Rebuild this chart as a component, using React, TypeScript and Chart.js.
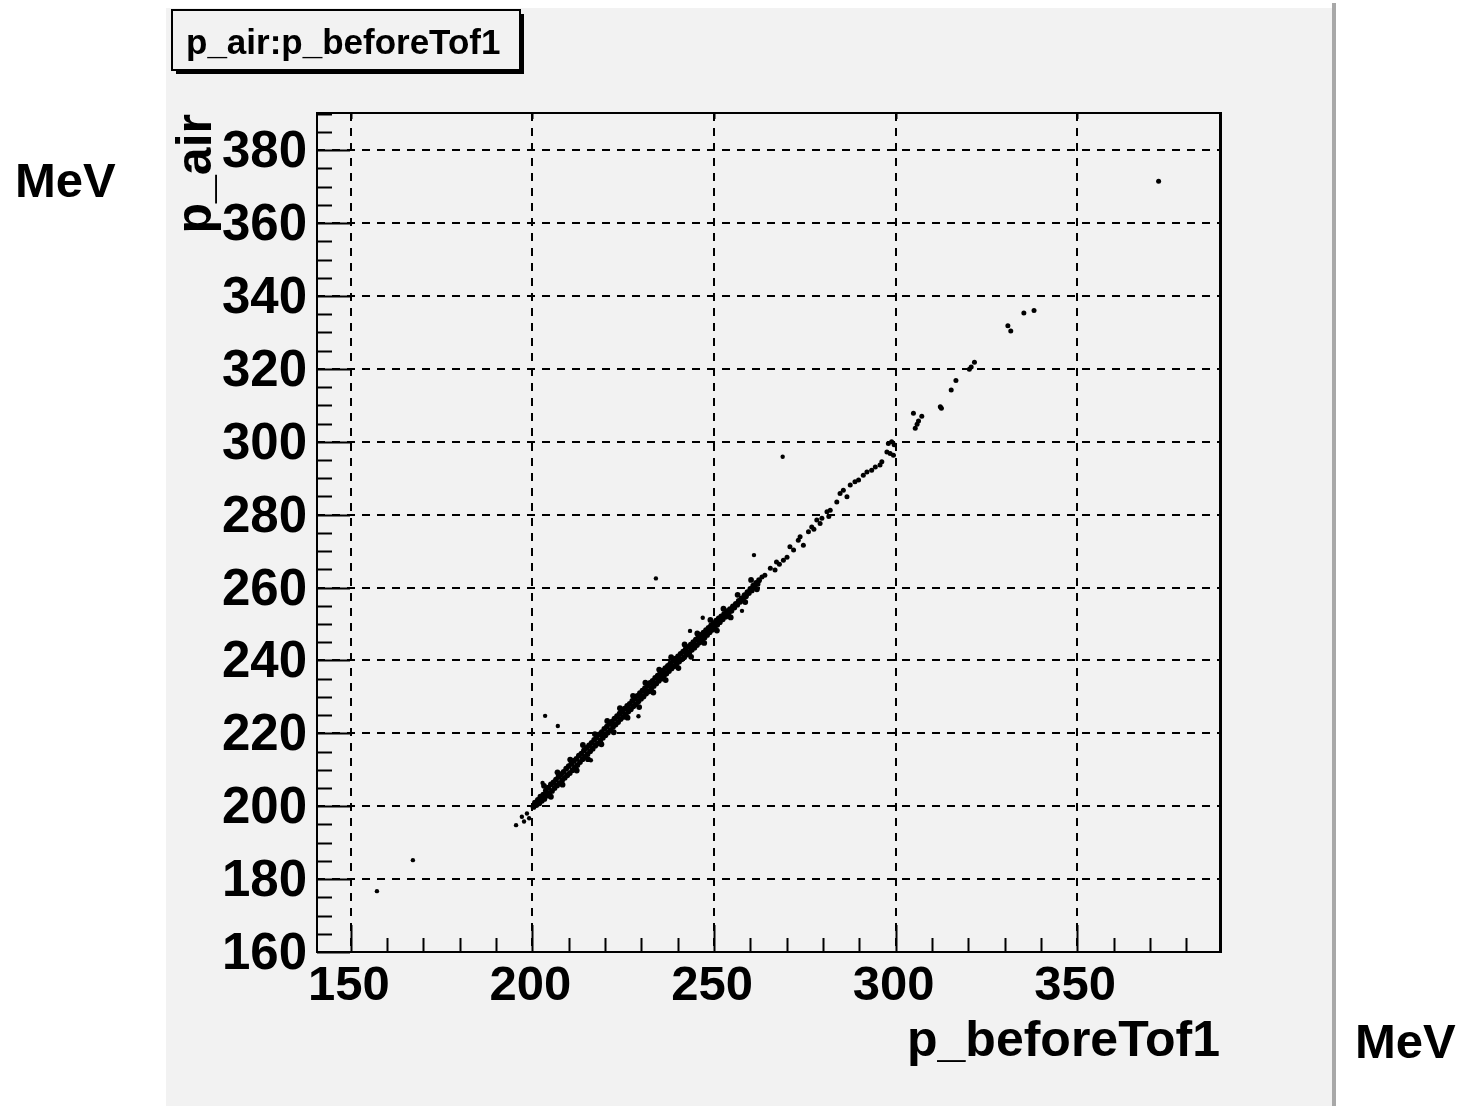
import React, { useEffect, useRef } from "react";
import { Chart, registerables } from "chart.js";

Chart.register(...registerables);

// ---- axis setup -----------------------------------------------------------
const X_MIN = 140.7;
const X_MAX = 389.3;
const Y_MIN = 160;
const Y_MAX = 390.2;
const xMajorTicks = [150, 200, 250, 300, 350];
const yMajorTicks = [160, 180, 200, 220, 240, 260, 280, 300, 320, 340, 360, 380];
const xMinorStep = 10;
const yMinorStep = 5;

const histTitle = "p_air:p_beforeTof1";
const xTitle = "p_beforeTof1";
const yTitle = "p_air";
const unitLabel = "MeV";

// ---- events: [p_beforeTof1, p_air] --------------------------------------
const coreBand: [number, number][] = [
  [200.3, 199.8], [200.7, 201.0], [201.1, 200.3], [201.5, 201.7], [201.9, 200.8], [202.2, 202.6], [202.6, 201.5], [203.0, 203.2],
  [203.3, 202.0], [203.7, 204.3], [204.0, 202.9], [204.4, 205.1], [204.7, 203.6], [205.1, 206.0], [205.4, 204.2], [205.8, 206.5],
  [206.1, 205.0], [206.5, 207.3], [206.8, 205.7], [207.2, 208.1], [207.5, 206.3], [207.9, 208.8], [208.2, 207.2], [208.6, 209.4],
  [208.9, 207.8], [209.3, 210.3], [209.6, 208.5], [210.0, 211.0], [210.3, 209.1], [210.7, 211.6], [211.0, 209.9], [211.4, 212.4],
  [211.7, 210.7], [212.1, 213.0],
  [212.4, 211.3], [212.8, 213.9], [213.1, 212.1], [213.5, 214.4], [213.8, 212.9], [214.2, 215.3], [214.5, 213.6], [214.9, 216.0],
  [215.2, 214.3], [215.6, 216.7], [215.9, 215.1], [216.3, 217.4], [216.6, 215.8], [217.0, 218.2], [217.3, 216.6], [217.7, 218.9],
  [218.0, 217.2], [218.4, 219.7], [218.7, 218.0], [219.1, 220.3], [219.4, 218.8], [219.8, 221.2], [220.1, 219.5], [220.5, 221.8],
  [220.8, 220.2], [221.2, 222.6], [221.5, 220.9], [221.9, 223.2], [222.2, 221.8], [222.6, 224.0], [222.9, 222.4], [223.3, 224.7],
  [223.6, 223.1], [224.0, 225.4], [224.3, 223.9], [224.7, 226.0],
  [225.0, 224.5], [225.4, 226.8], [225.7, 225.2], [226.1, 227.5], [226.4, 226.0], [226.8, 228.1], [227.1, 226.6], [227.5, 228.9],
  [227.8, 227.4], [228.2, 229.6], [228.5, 228.0], [228.9, 230.3], [229.2, 228.8], [229.6, 231.0], [229.9, 229.5], [230.3, 231.7],
  [230.6, 230.1], [231.0, 232.4], [231.3, 230.9], [231.7, 233.1], [232.0, 231.5], [232.4, 233.8], [232.7, 232.3], [233.1, 234.4],
  [233.4, 233.0], [233.8, 235.2], [234.1, 233.7], [234.5, 235.8], [234.8, 234.4], [235.2, 236.5], [235.5, 235.0], [235.9, 237.2],
  [236.2, 235.8], [236.6, 237.9], [236.9, 236.4], [237.3, 238.5], [237.6, 237.1], [238.0, 239.2], [238.3, 237.8], [238.7, 239.9],
  [239.0, 238.4], [239.4, 240.5], [239.7, 239.1], [240.1, 241.1],
  [240.4, 239.7], [240.8, 241.8], [241.1, 240.3], [241.5, 242.4], [241.8, 240.9], [242.2, 243.1], [242.5, 241.6], [242.9, 243.7],
  [243.2, 242.2], [243.6, 244.3], [243.9, 242.9], [244.3, 245.0], [244.6, 243.5], [245.0, 245.7], [245.3, 244.2], [245.7, 246.3],
  [246.0, 244.9], [246.4, 247.0], [246.7, 245.6], [247.1, 247.6], [247.4, 246.3], [247.8, 248.3], [248.1, 247.0], [248.5, 248.9],
  [248.8, 247.7], [249.2, 249.6], [249.5, 248.4], [249.9, 250.2], [250.2, 249.1], [250.6, 250.9], [250.9, 249.8], [251.3, 251.5],
  [251.6, 250.5], [252.0, 252.1],
  [252.4, 251.3], [252.8, 252.8], [253.2, 252.0], [253.6, 253.5], [254.0, 252.8], [254.4, 254.1], [254.8, 253.6], [255.2, 254.8],
  [255.6, 254.5], [256.0, 255.5], [256.4, 255.3], [256.8, 256.3], [257.2, 256.1], [257.6, 257.0], [258.0, 256.9], [258.4, 257.9],
  [258.8, 257.6], [259.2, 258.7], [259.6, 258.5], [260.0, 259.6], [260.4, 259.2], [260.8, 260.5], [261.2, 260.1], [261.6, 261.3],
  [262.0, 261.0], [262.4, 262.0],
];

const bandSpread: [number, number][] = [
  [203.2, 205.6], [205.1, 202.6], [206.9, 209.3], [208.3, 205.9], [210.4, 212.8], [212.2, 209.8], [213.9, 216.8], [215.3, 212.9],
  [217.2, 219.8], [219.0, 217.0], [220.6, 223.4], [222.4, 220.3], [224.1, 226.9], [226.2, 224.3], [227.7, 230.3], [229.4, 227.2],
  [231.1, 233.9], [233.3, 231.2], [234.9, 237.5], [236.7, 234.6], [238.2, 240.9], [240.2, 237.9], [241.9, 244.4], [243.7, 241.0],
  [245.4, 247.4], [247.3, 244.8], [249.0, 251.1], [250.8, 248.2], [252.6, 254.2], [254.6, 251.8], [256.5, 258.0], [258.6, 256.0],
  [260.2, 262.1], [261.8, 259.5],
];

const upperTrail: [number, number][] = [
  [263.2, 262.9], [264.0, 263.4], [265.5, 265.3], [266.8, 264.8], [267.2, 267.0], [268.0, 266.4], [269.1, 267.5], [270.1, 268.3],
  [270.9, 271.2], [271.9, 270.3], [273.2, 273.0], [273.7, 273.9], [274.6, 271.6], [276.0, 275.3], [276.9, 276.6], [277.5, 276.0],
  [278.3, 278.5], [279.2, 277.6], [279.7, 279.0], [281.1, 280.8], [281.6, 279.5], [282.0, 281.2], [283.8, 283.5], [284.7, 285.8],
  [285.6, 286.7], [286.6, 284.9], [287.5, 288.1], [288.8, 289.0], [289.8, 289.5], [291.1, 290.8], [292.1, 291.7], [293.4, 292.2],
  [294.4, 293.1], [295.7, 293.6], [296.2, 294.5], [297.6, 297.2], [298.5, 296.8], [299.4, 296.3], [298.0, 299.5], [298.9, 300.0],
  [299.6, 299.2],
  [304.9, 307.8], [307.2, 307.0], [306.3, 305.7], [305.4, 303.7], [305.9, 304.8], [312.3, 309.6], [312.6, 309.2], [315.3, 314.2],
  [316.6, 316.8], [320.3, 319.9], [320.8, 320.5], [321.7, 321.8], [330.9, 331.8], [331.7, 330.4], [335.3, 335.3], [338.1, 336.0],
  [372.4, 371.5],
];

const strayEvents: [number, number][] = [
  [157.2, 176.7], [167.1, 185.2], [195.5, 194.8], [197.1, 197.1], [197.7, 195.8], [198.5, 198.0], [199.1, 196.7],
  [203.5, 224.8], [207.0, 222.0], [234.0, 262.5], [268.9, 295.9], [261.0, 268.9], [246.9, 251.7], [243.4, 248.1],
  [257.7, 253.6], [229.2, 224.7], [216.1, 212.6], [202.8, 206.4],
];

const FONT = '"Liberation Sans", Arial, Helvetica, sans-serif';

// Pad background, frame, ROOT-style inward ticks, labels and the title box
const padDecor = {
  id: "padDecor",
  beforeDraw(chart: Chart) {
    const { ctx, width, height } = chart;
    ctx.save();
    ctx.fillStyle = "#ffffff";
    ctx.fillRect(0, 0, width, height);
    ctx.fillStyle = "#f2f2f2";
    ctx.fillRect(166, 8, 1168, height - 8);
    ctx.fillStyle = "#a8a8a8";
    ctx.fillRect(1332, 3, 4, height - 3);
    ctx.restore();
  },
  afterDraw(chart: Chart) {
    const { ctx, chartArea } = chart;
    const xs = chart.scales.x;
    const ys = chart.scales.y;
    const { left, right, top, bottom } = chartArea;
    ctx.save();

    // frame
    ctx.strokeStyle = "#000";
    ctx.lineWidth = 2;
    ctx.strokeRect(left, top, right - left, bottom - top);
    ctx.fillStyle = "#000";
    ctx.fillRect(right - 1, top - 1, 3, bottom - top + 2);

    // x ticks (bottom: major + minor; top: major only)
    ctx.beginPath();
    for (let v = Math.ceil(X_MIN / xMinorStep) * xMinorStep; v <= X_MAX; v += xMinorStep) {
      const px = Math.round(xs.getPixelForValue(v)) + 0.5;
      const major = xMajorTicks.includes(v);
      ctx.moveTo(px, bottom);
      ctx.lineTo(px, bottom - (major ? 27 : 14));
      if (major) {
        ctx.moveTo(px, top);
        ctx.lineTo(px, top + 6);
      }
    }
    // y ticks (left: major + minor)
    for (let v = Math.ceil(Y_MIN / yMinorStep) * yMinorStep; v <= Y_MAX; v += yMinorStep) {
      const py = Math.round(ys.getPixelForValue(v)) + 0.5;
      const major = yMajorTicks.includes(v);
      ctx.moveTo(left, py);
      ctx.lineTo(left + (major ? 33 : 15), py);
    }
    ctx.lineWidth = 2;
    ctx.stroke();

    // tick labels
    ctx.fillStyle = "#000";
    ctx.font = `bold 49px ${FONT}`;
    ctx.textAlign = "center";
    ctx.textBaseline = "alphabetic";
    for (const v of xMajorTicks) {
      ctx.fillText(String(v), xs.getPixelForValue(v) - 2, 1000);
    }
    ctx.font = `bold 51px ${FONT}`;
    ctx.textAlign = "right";
    ctx.textBaseline = "middle";
    for (const v of yMajorTicks) {
      ctx.fillText(String(v), 307, ys.getPixelForValue(v) + 3);
    }

    // axis titles
    ctx.font = `bold 50px ${FONT}`;
    ctx.textAlign = "right";
    ctx.textBaseline = "alphabetic";
    ctx.fillText(xTitle, right, 1056);
    ctx.save();
    ctx.translate(211, top + 1);
    ctx.rotate(-Math.PI / 2);
    ctx.fillText(yTitle, 0, 0);
    ctx.restore();

    // unit labels
    ctx.font = `bold 49px ${FONT}`;
    ctx.textAlign = "left";
    ctx.fillText(unitLabel, 15, 197);
    ctx.fillText(unitLabel, 1355, 1058);

    // title box with drop shadow
    const bx = 172, by = 10, bw = 348, bh = 60;
    ctx.fillStyle = "#000";
    ctx.fillRect(bx + 4, by + 4, bw, bh);
    ctx.fillStyle = "#f2f2f2";
    ctx.fillRect(bx, by, bw, bh);
    ctx.strokeStyle = "#000";
    ctx.lineWidth = 2;
    ctx.strokeRect(bx, by, bw, bh);
    ctx.fillStyle = "#000";
    ctx.font = `bold 35px ${FONT}`;
    ctx.textAlign = "left";
    ctx.fillText(histTitle, 186, 54);

    ctx.restore();
  },
};

export default function App() {
  const canvasRef = useRef<HTMLCanvasElement | null>(null);

  useEffect(() => {
    const canvas = canvasRef.current;
    if (!canvas) return;
    const toPoints = (arr: [number, number][]) => arr.map(([x, y]) => ({ x, y }));
    const common = { backgroundColor: "#000", borderWidth: 0 };

    const chart = new Chart(canvas, {
      type: "scatter",
      data: {
        datasets: [
          { ...common, label: "band", data: toPoints([...coreBand, ...bandSpread]), pointRadius: 2.9, pointHoverRadius: 2.9 },
          { ...common, label: "trail", data: toPoints(upperTrail), pointRadius: 2.5, pointHoverRadius: 2.5 },
          { ...common, label: "stray", data: toPoints(strayEvents), pointRadius: 2.2, pointHoverRadius: 2.2 },
        ],
      },
      options: {
        responsive: false,
        animation: false,
        devicePixelRatio: 1,
        events: [],
        layout: { padding: { left: 317, right: 1460 - 1220, top: 113, bottom: 1106 - 952 } },
        plugins: {
          legend: { display: false },
          tooltip: { enabled: false },
          title: { display: false },
        },
        scales: {
          x: {
            type: "linear",
            min: X_MIN,
            max: X_MAX,
            afterFit: (s: any) => {
              s.height = 0;
            },
            afterBuildTicks: (s: any) => {
              s.ticks = xMajorTicks.map((value) => ({ value }));
            },
            ticks: { display: false },
            grid: { color: "#000", lineWidth: 2, drawTicks: false },
            border: { display: false, dash: [8, 7] },
          },
          y: {
            type: "linear",
            min: Y_MIN,
            max: Y_MAX,
            afterFit: (s: any) => {
              s.width = 0;
            },
            afterBuildTicks: (s: any) => {
              s.ticks = yMajorTicks.map((value) => ({ value }));
            },
            ticks: { display: false },
            grid: { color: "#000", lineWidth: 2, drawTicks: false },
            border: { display: false, dash: [8, 7] },
          },
        },
      },
      plugins: [padDecor],
    });
    return () => chart.destroy();
  }, []);

  return (
    <div style={{ position: "absolute", left: 0, top: 0, width: 1460, height: 1106 }}>
      <canvas ref={canvasRef} width={1460} height={1106} style={{ display: "block" }} />
    </div>
  );
}
